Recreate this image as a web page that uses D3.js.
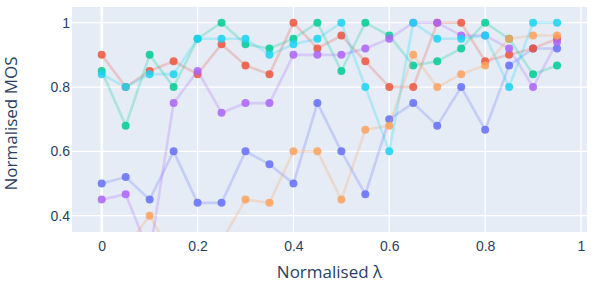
<!DOCTYPE html>
<html lang="en">
<head>
<meta charset="utf-8">
<title>Normalised MOS</title>
<style>
  body { margin: 0; padding: 0; background: white; }
  svg { display: block; font-family: "Open Sans", verdana, arial, sans-serif; }
  .tick text { fill: #2a3f5f; font-size: 14px; }
  .title { fill: #2a3f5f; font-size: 17px; }
</style>
</head>
<body>
<div id="chart"></div>
<script src="https://d3js.org/d3.v7.min.js"></script>
<script>
// data
var lambda = [0, 0.05, 0.1, 0.15, 0.2, 0.25, 0.3, 0.35, 0.4, 0.45, 0.5, 0.55, 0.6, 0.65, 0.7, 0.75, 0.8, 0.85, 0.9, 0.95];
var blue   = [0.5, 0.52, 0.45, 0.6, 0.44, 0.44, 0.6, 0.56, 0.5, 0.75, 0.6, 0.467, 0.7, 0.75, 0.68, 0.8, 0.667, 0.867, 0.92, 0.92];
var red    = [0.9, 0.8, 0.85, 0.88, 0.84, 0.933, 0.867, 0.84, 1.0, 0.92, 0.96, 0.88, 0.8, 0.8, 1.0, 1.0, 0.88, 0.9, 0.92, 0.95];
var green  = [0.85, 0.68, 0.9, 0.8, 0.95, 1.0, 0.933, 0.92, 0.95, 1.0, 0.85, 1.0, 0.96, 0.867, 0.88, 0.92, 1.0, 0.95, 0.84, 0.867];
var purple = [0.45, 0.467, 0.28, 0.75, 0.85, 0.72, 0.75, 0.75, 0.9, 0.9, 0.9, 0.92, 0.95, 1.0, 1.0, 0.96, 0.96, 0.92, 0.8, 0.94];
var orange = [0.2, 0.3, 0.4, 0.27, 0.25, 0.32, 0.45, 0.44, 0.6, 0.6, 0.45, 0.667, 0.68, 0.9, 0.8, 0.84, 0.867, 0.95, 0.96, 0.96];
var cyan   = [0.84, 0.8, 0.84, 0.84, 0.95, 0.95, 0.95, 0.9, 0.933, 0.95, 1.0, 0.8, 0.6, 1.0, 0.95, 0.95, 0.96, 0.8, 1.0, 1.0];

var xTicks = [0, 0.2, 0.4, 0.6, 0.8, 1];
var yTicks = [0.4, 0.6, 0.8, 1];

var series = [
  {values: blue,   color: "#636efa"},
  {values: red,    color: "#EF553B"},
  {values: green,  color: "#00cc96"},
  {values: purple, color: "#ab63fa"},
  {values: orange, color: "#FFA15A"},
  {values: cyan,   color: "#19d3f3"}
];

var width = 598, height = 285;
var margin = {top: 7, right: 11, bottom: 53, left: 72};
var w = width - margin.left - margin.right;
var h = height - margin.top - margin.bottom;

var svg = d3.select("#chart").append("svg")
  .attr("width", width)
  .attr("height", height);

var x = d3.scaleLinear().domain([-0.062, 1.0125]).range([0, w]);
var y = d3.scaleLinear().domain([0.3493, 1.0488]).range([h, 0]);

var g = svg.append("g").attr("transform", "translate(" + margin.left + "," + margin.top + ")");

g.append("rect").attr("width", w).attr("height", h).attr("fill", "#E5ECF6");

svg.append("defs").append("clipPath").attr("id", "clip")
  .append("rect").attr("width", w).attr("height", h);

// grid
g.selectAll(".xgrid").data(xTicks).enter().append("line")
  .attr("x1", function(d){ return x(d); }).attr("x2", function(d){ return x(d); })
  .attr("y1", 0).attr("y2", h)
  .attr("stroke", "white")
  .attr("stroke-width", function(d){ return d === 0 ? 2.5 : 1.3; });
g.selectAll(".ygrid").data(yTicks).enter().append("line")
  .attr("y1", function(d){ return y(d); }).attr("y2", function(d){ return y(d); })
  .attr("x1", 0).attr("x2", w)
  .attr("stroke", "white").attr("stroke-width", 1.3);

// axes (labels only)
var xAxis = g.append("g").attr("transform", "translate(0," + h + ")")
  .call(d3.axisBottom(x).tickValues(xTicks).tickFormat(d3.format("~g")).tickSize(0).tickPadding(9));
var yAxis = g.append("g")
  .call(d3.axisLeft(y).tickValues(yTicks).tickFormat(d3.format("~g")).tickSize(0).tickPadding(2));
xAxis.select(".domain").remove();
yAxis.select(".domain").remove();
g.selectAll(".tick text").attr("fill", "#2a3f5f");

// traces
var plot = g.append("g").attr("clip-path", "url(#clip)");
var line = d3.line()
  .x(function(d, i){ return x(lambda[i]); })
  .y(function(d){ return y(d); });

series.forEach(function(s){
  var sg = plot.append("g");
  sg.append("path")
    .attr("d", line(s.values))
    .attr("fill", "none")
    .attr("stroke", s.color)
    .attr("stroke-width", 2.6)
    .attr("stroke-opacity", 0.25);
  sg.selectAll("circle").data(s.values).enter().append("circle")
    .attr("cx", function(d, i){ return x(lambda[i]); })
    .attr("cy", function(d){ return y(d); })
    .attr("r", 4)
    .attr("fill", s.color)
    .attr("fill-opacity", 0.85);
});

// titles
svg.append("text").attr("class", "title")
  .attr("x", margin.left + w / 2).attr("y", 278)
  .attr("text-anchor", "middle")
  .text("Normalised λ");
svg.append("text").attr("class", "title")
  .attr("transform", "translate(17,123.5) rotate(-90)")
  .attr("text-anchor", "middle")
  .text("Normalised MOS");
</script>
</body>
</html>
